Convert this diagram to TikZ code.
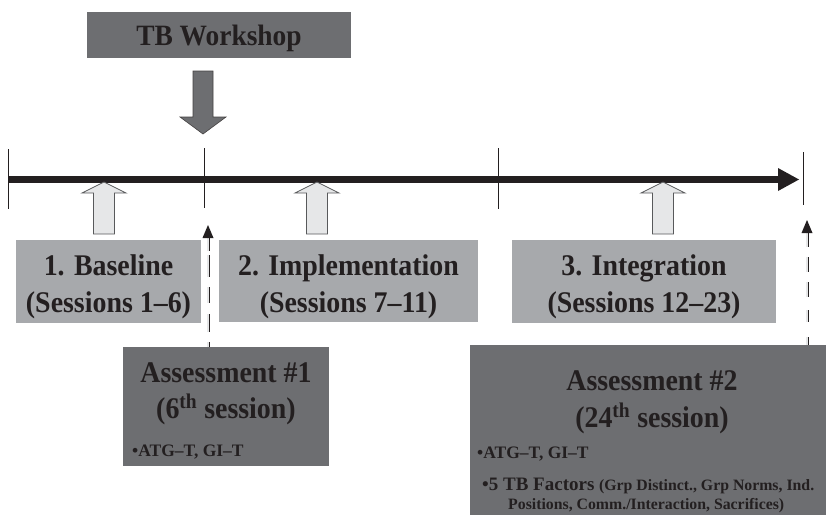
\documentclass[tikz,border=0pt]{standalone}
\usepackage{graphicx}
\usepackage{fontspec}
\setmainfont{Liberation Serif}
\definecolor{lbox}{HTML}{A7A9AC}
\definecolor{dbox}{HTML}{6D6E71}
\definecolor{afill}{HTML}{E6E7E8}
\definecolor{aline}{HTML}{58595B}
\definecolor{ink}{HTML}{231F20}
\newcommand{\narrowtxt}[1]{\scalebox{0.93}[1]{#1}}
\tikzset{
  lightbox/.style={fill=lbox, draw=none, inner sep=0pt, anchor=north west},
  darkbox/.style={fill=dbox, draw=none, inner sep=0pt, anchor=north west},
  bigtext/.style={font=\bfseries\fontsize{30}{34}\selectfont, text=ink, inner sep=0pt, anchor=base},
  smalltext/.style={font=\bfseries\fontsize{17.5}{21}\selectfont, text=ink, inner sep=0pt, anchor=base west},
  tick/.style={draw=ink, line width=0.8pt},
  dbl/.style={draw=ink, line width=0.8pt, double=afill, double distance=1.4pt},
  uparrow/.pic={\filldraw[fill=afill, draw=aline, line width=0.8pt]
     (-10.5,52) -- (-10.5,11) -- (-22,11) -- (0,0) -- (22,11) -- (10.5,11) -- (10.5,52) -- cycle;}
}
\begin{document}
\begin{tikzpicture}[x=1pt,y=-1pt]
\useasboundingbox (0,0) rectangle (826,515);

% TB workshop
\node[darkbox, minimum width=264pt, minimum height=46pt] (tb) at (87,12) {};
\node[bigtext, font=\bfseries\fontsize{29.5}{33}\selectfont] (tbt) at (219,45) {\narrowtxt{TB Workshop}};
\filldraw[fill=dbox, draw=ink!85, line width=0.6pt]
  (193,71) -- (213,71) -- (213,117) -- (226,117) -- (203,134) -- (180,117) -- (193,117) -- cycle;

% timeline
\coordinate (tl0) at (8,179.5);
\coordinate (tl1) at (780,179.5);
\draw[ink, line width=7pt] (tl0) -- (tl1);
\fill[ink] (778,168) -- (799,179.5) -- (778,191) -- cycle;
\draw[tick] (8,149) -- (8,209);
\draw[tick] (204,148) -- (204,208);
\draw[tick] (498,148) -- (498,209);
\draw[tick] (803,152) -- (803,205);

% up arrows
\pic at (104,182) {uparrow};
\pic at (317,182) {uparrow};
\pic at (663,182) {uparrow};

% phase boxes
\node[lightbox, minimum width=185pt, minimum height=83pt] (b1) at (16,240) {};
\node[bigtext] (b1a) at (108.5,275) {\narrowtxt{1. Baseline}};
\node[bigtext] (b1b) at (108.5,312) {\narrowtxt{(Sessions 1–6)}};

\node[lightbox, minimum width=259pt, minimum height=82pt] (b2) at (219,240) {};
\node[bigtext] (b2a) at (348.5,275) {\narrowtxt{2. Implementation}};
\node[bigtext] (b2b) at (348.5,312) {\narrowtxt{(Sessions 7–11)}};

\node[lightbox, minimum width=264pt, minimum height=83pt] (b3) at (512,240) {};
\node[bigtext] (b3a) at (644,275) {\narrowtxt{3. Integration}};
\node[bigtext] (b3b) at (644,312) {\narrowtxt{(Sessions 12–23)}};

% assessment 1
\node[darkbox, minimum width=206pt, minimum height=119pt] (a1) at (123,347) {};
\node[bigtext] (a1a) at (226,382) {\narrowtxt{Assessment \#1}};
\node[bigtext] (a1b) at (226,418) {\narrowtxt{(6\textsuperscript{th} session)}};
\node[smalltext] (a1c) at (132,456) {•ATG–T, GI–T};

% assessment 2
\node[darkbox, minimum width=356pt, minimum height=170pt] (a2) at (470,345) {};
\node[bigtext] (a2a) at (652,390) {\narrowtxt{Assessment \#2}};
\node[bigtext] (a2b) at (652,427) {\narrowtxt{(24\textsuperscript{th} session)}};
\node[smalltext] (a2c) at (477,458) {•ATG–T, GI–T};
\node[smalltext, font=\bfseries\fontsize{19}{21}\selectfont] (a2d) at (482,490) {•5 TB Factors {\fontsize{15.8}{18}\selectfont(Grp Distinct., Grp Norms, Ind.}};
\node[smalltext, font=\bfseries\fontsize{15.8}{18}\selectfont] (a2e) at (508,509) {Positions, Comm./Interaction, Sacrifices)};

% dashed double arrows
\coordinate (t1) at (208,225);
\coordinate (h1) at (208,238);
\draw[dbl, dash pattern=on 13pt off 4pt on 22pt off 10pt on 16pt off 11pt on 18pt off 10pt] (h1) -- (a1.north -| h1);
\fill[ink] (202.5,238) -- (t1) -- (213.5,238) -- cycle;

\coordinate (t2) at (807,220);
\coordinate (h2) at (807,233);
\draw[dbl, dash pattern=on 14pt off 10pt on 15pt off 10pt on 15pt off 13pt on 12pt off 15pt] (h2) -- (a2.north -| h2);
\fill[ink] (801.5,233) -- (t2) -- (812.5,233) -- cycle;
\end{tikzpicture}
\end{document}
